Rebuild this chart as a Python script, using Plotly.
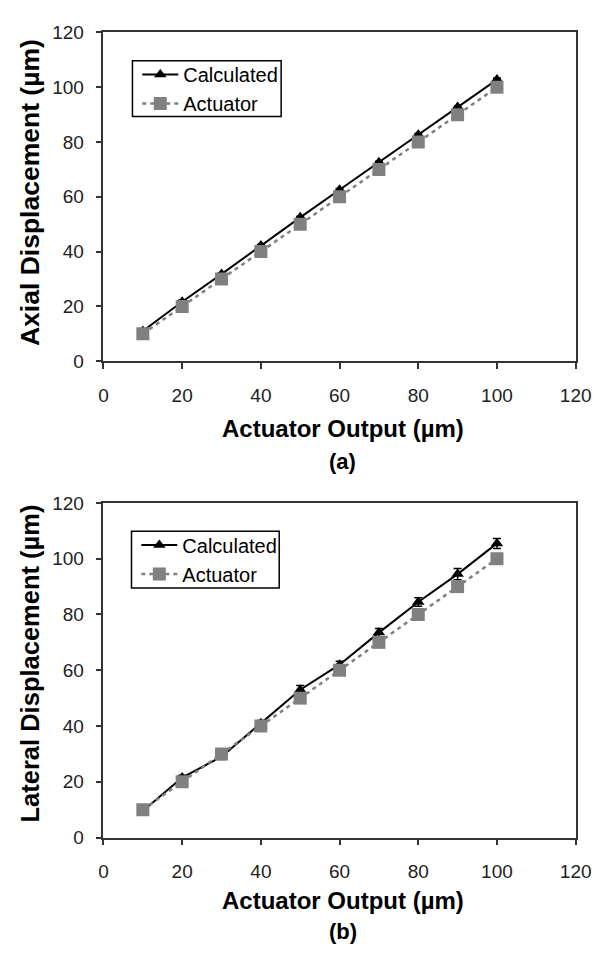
import plotly.graph_objects as go

# ---- data ----
actuator_output = [10, 20, 30, 40, 50, 60, 70, 80, 90, 100]

axial_calculated = [11, 21.7, 31.8, 42.2, 52.5, 62.6, 72.6, 82.7, 92.8, 102.8]
axial_calc_err = [0.3, 0.6, 0.4, 0.4, 0.4, 0.4, 0.4, 0.4, 0.4, 0.6]
axial_actuator = [10, 20, 30, 40, 50, 60, 70, 80, 90, 100]

lateral_calculated = [9.5, 21.5, 29, 41, 53, 62, 73.5, 84.5, 94.5, 105.5]
lateral_calc_err = [1.0, 0.8, 1.0, 1.0, 1.5, 1.2, 1.5, 1.5, 2.0, 1.8]
lateral_actuator = [10, 20, 30, 40, 50, 60, 70, 80, 90, 100]

tick_vals = [0, 20, 40, 60, 80, 100, 120]

W, H = 610, 961
FONT = "Liberation Sans, Arial, sans-serif"


def py(p):
    return 1 - p / H


def px(p):
    return p / W


fig = go.Figure()

panels = [
    ("x", "y", axial_calculated, axial_calc_err, axial_actuator, "legend"),
    ("x2", "y2", lateral_calculated, lateral_calc_err, lateral_actuator, "legend2"),
]
for xa, ya, calc, err, act, leg in panels:
    fig.add_trace(go.Scatter(
        x=actuator_output, y=calc, xaxis=xa, yaxis=ya,
        name="Calculated", legend=leg,
        mode="lines+markers",
        line=dict(color="black", width=2),
        marker=dict(symbol="triangle-up", size=11, color="black"),
        error_y=dict(type="data", array=err, visible=True, color="black",
                     thickness=1.5, width=4),
    ))
    fig.add_trace(go.Scatter(
        x=actuator_output, y=act, xaxis=xa, yaxis=ya,
        name="Actuator", legend=leg,
        mode="lines+markers",
        line=dict(color="#808080", width=2.5, dash="4px,4px"),
        marker=dict(symbol="square", size=13, color="#808080"),
    ))

x_dom = [px(102), px(591)]
top_dom = [py(359), py(23)]
bot_dom = [py(846), py(504)]

axis_common = dict(
    range=[0, 120], tickvals=tick_vals, showline=True, mirror=True,
    linecolor="#333333", linewidth=1.5, ticks="outside", ticklen=6,
    tickcolor="#333333", tickwidth=1.5, showgrid=False, zeroline=False,
    tickfont=dict(family=FONT, size=19, color="#222222"),
)

legend_common = dict(
    xanchor="left", yanchor="top", borderwidth=0, bgcolor="rgba(0,0,0,0)",
    font=dict(family=FONT, size=20, color="black"),
    tracegroupgap=0, itemwidth=36,
)

fig.update_layout(
    width=W, height=H,
    margin=dict(l=0, r=0, t=0, b=0),
    paper_bgcolor="white", plot_bgcolor="white",
    xaxis=dict(domain=x_dom, anchor="y", ticklabelstandoff=10, **axis_common),
    yaxis=dict(domain=top_dom, anchor="x", ticklabelstandoff=8, **axis_common),
    xaxis2=dict(domain=x_dom, anchor="y2", ticklabelstandoff=10, **axis_common),
    yaxis2=dict(domain=bot_dom, anchor="x2", ticklabelstandoff=8, **axis_common),
    legend=dict(x=px(137), y=py(46), **legend_common),
    legend2=dict(x=px(136), y=py(527), **legend_common),
    showlegend=True,
)

# legend frames
for (x0, y0, x1, y1) in [(132, 52, 286, 109), (131, 533, 284, 591)]:
    fig.add_shape(type="rect", xref="paper", yref="paper",
                  x0=px(x0), x1=px(x1), y0=py(y1), y1=py(y0),
                  line=dict(color="black", width=1.5), fillcolor="white",
                  layer="below")

title_font = dict(family=FONT, size=24, color="black")
annos = [
    dict(text="<b>Axial Displacement (µm)</b>", x=px(26), y=py(187), textangle=-90,
         font=dict(family=FONT, size=26.5, color="black")),
    dict(text="<b>Lateral Displacement (µm)</b>", x=px(26), y=py(668), textangle=-90,
         font=dict(family=FONT, size=25.5, color="black")),
    dict(text="<b>Actuator Output (µm)</b>", x=px(350), y=py(428), font=title_font),
    dict(text="<b>(a)</b>", x=px(350), y=py(462), font=dict(family=FONT, size=22, color="black")),
    dict(text="<b>Actuator Output (µm)</b>", x=px(350), y=py(910), font=title_font),
    dict(text="<b>(b)</b>", x=px(350), y=py(942), font=dict(family=FONT, size=22, color="black")),
]
for a in annos:
    a.update(xref="paper", yref="paper", showarrow=False, xanchor="center", yanchor="middle")
    fig.add_annotation(**a)

fig.write_html("out.html")
